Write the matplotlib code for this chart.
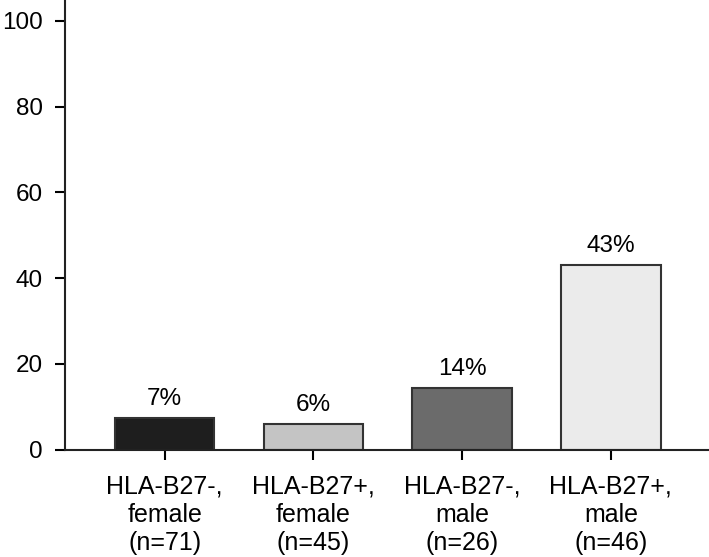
import matplotlib
matplotlib.use("Agg")
import matplotlib.pyplot as plt

categories = ["HLA-B27-,\nfemale\n(n=71)", "HLA-B27+,\nfemale\n(n=45)",
              "HLA-B27-,\nmale\n(n=26)", "HLA-B27+,\nmale\n(n=46)"]
values = [7.3, 5.9, 14.3, 43.0]
value_labels = ["7%", "6%", "14%", "43%"]
bar_colors = ["#1e1e1e", "#c4c4c4", "#6b6b6b", "#ebebeb"]
yticks = [0, 20, 40, 60, 80, 100]

plt.rcParams['font.family'] = ['Liberation Sans', 'DejaVu Sans']

fig = plt.figure(figsize=(7.09, 5.57), dpi=100)
ax = fig.add_axes([65 / 709, (557 - 449.5) / 557, 1 - 65 / 709, 449.5 / 557])

x = list(range(len(values)))
ax.bar(x, values, width=0.67, color=bar_colors, edgecolor="#333333", linewidth=1.5)
for xi, v, lab in zip(x, values, value_labels):
    ax.annotate(lab, (xi, v), xytext=(0, 9.5), textcoords="offset points",
                ha="center", va="baseline", fontsize=17.5)

ax.set_xlim(-0.67, 3.66)
ax.set_ylim(0, 104.9)
ax.set_yticks(yticks)
ax.set_xticks(x)
ax.set_xticklabels(categories, fontsize=18, linespacing=1.22)
ax.tick_params(axis="y", labelsize=17.5, length=7, width=1.5, pad=9)
ax.tick_params(axis="x", length=7, width=1.5, pad=11)

for s in ["top", "right"]:
    ax.spines[s].set_visible(False)
for s in ["left", "bottom"]:
    ax.spines[s].set_linewidth(1.5)
    ax.spines[s].set_color("#222222")

fig.savefig("out.png", dpi=100)
